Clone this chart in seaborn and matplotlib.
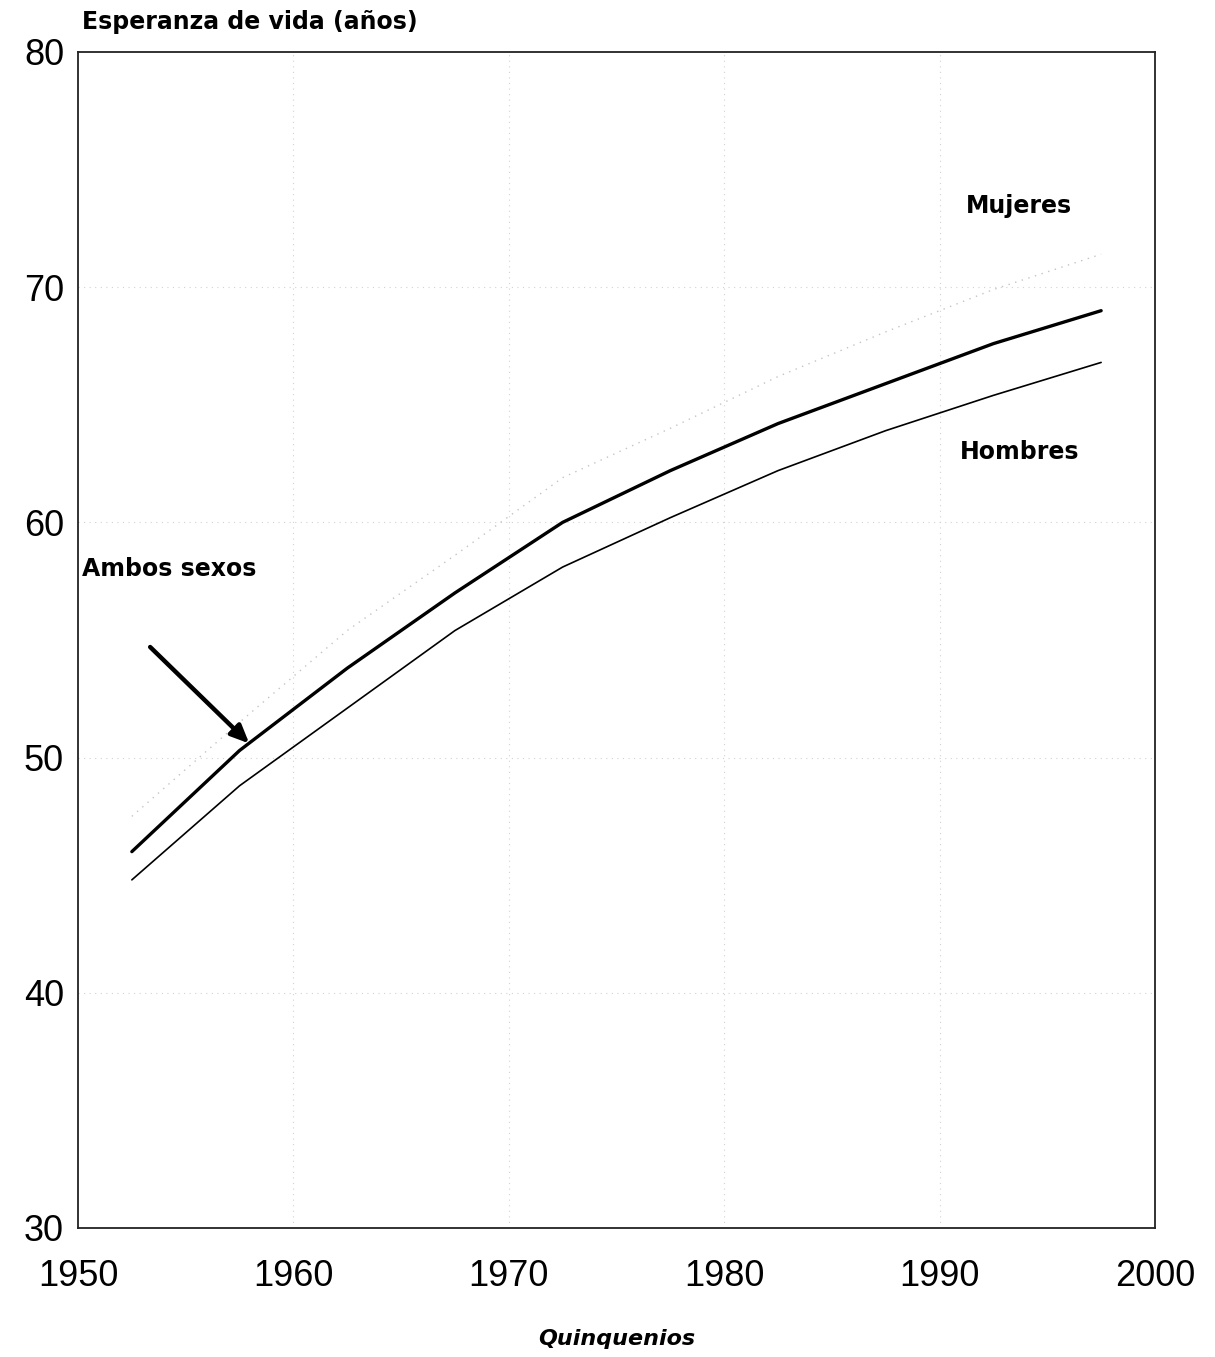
import pandas as pd
import numpy as np
import matplotlib.pyplot as plt
import seaborn as sns

# Quinquenios (midpoints) and life expectancy values
years = [1952.5, 1957.5, 1962.5, 1967.5, 1972.5, 1977.5, 1982.5, 1987.5, 1992.5, 1997.5]
ambos = [46.0, 50.3, 53.8, 57.0, 60.0, 62.2, 64.2, 65.9, 67.6, 69.0]
hombres = [44.8, 48.8, 52.1, 55.4, 58.1, 60.2, 62.2, 63.9, 65.4, 66.8]
mujeres = [47.5, 51.5, 55.4, 58.6, 61.9, 64.0, 66.2, 68.1, 69.9, 71.4]

x_ticks = [1950, 1960, 1970, 1980, 1990, 2000]
y_ticks = [30, 40, 50, 60, 70, 80]

df = pd.DataFrame({'year': years, 'Ambos sexos': ambos,
                   'Hombres': hombres, 'Mujeres': mujeres})

sns.set_theme(style="white")
plt.rcParams['font.family'] = ['Liberation Sans', 'DejaVu Sans']
plt.rcParams['text.color'] = 'black'

fig = plt.figure(figsize=(12.15, 13.57), dpi=100)
ax = fig.add_axes([0.0642, 0.0951, 0.8864, 0.8666])

# faint dotted grid like the scanned original
for xv in x_ticks[1:-1]:
    ax.axvline(xv, color='#d2d2d2', linestyle=(0, (1, 4)), linewidth=0.8, zorder=0)
for yv in y_ticks[1:-1]:
    ax.axhline(yv, color='#d2d2d2', linestyle=(0, (1, 4)), linewidth=0.8, zorder=0)

sns.lineplot(data=df, x='year', y='Mujeres', ax=ax, color='#c4c4c4',
             linestyle=(0, (1, 4)), linewidth=1.0)
sns.lineplot(data=df, x='year', y='Hombres', ax=ax, color='black', linewidth=1.2)
sns.lineplot(data=df, x='year', y='Ambos sexos', ax=ax, color='black', linewidth=2.4)

ax.set_xlim(1950, 2000)
ax.set_ylim(30, 80)
ax.set_xticks(x_ticks)
ax.set_yticks(y_ticks)
ax.set_xlabel('')
ax.set_ylabel('')
ax.tick_params(axis='both', direction='in', length=10, width=1, color='black',
               labelsize=26, labelcolor='black')
ax.tick_params(axis='x', pad=22)
ax.tick_params(axis='y', pad=10)
for s in ax.spines.values():
    s.set_color('#222222')
    s.set_linewidth(1.3)

# labels
lab = dict(fontsize=17, fontweight='bold', family=['DejaVu Sans'], color='black')
ax.text(1950.2, 58.0, 'Ambos sexos', ha='left', va='center', **lab)
ax.text(1993.7, 73.45, 'Mujeres', ha='center', va='center', **lab)
ax.text(1993.7, 63.0, 'Hombres', ha='center', va='center', **lab)

ax.annotate('', xy=(1957.95, 50.6), xytext=(1953.35, 54.7),
            arrowprops=dict(arrowstyle='-|>,head_length=0.9,head_width=0.4',
                            color='black', lw=3.2, shrinkA=0, shrinkB=0))

fig.text(0.0675, 0.9838, 'Esperanza de vida (años)', fontsize=17,
         fontweight='bold', family=['DejaVu Sans'], color='black',
         ha='left', va='center')
fig.text(0.508, 0.0133, 'Quinquenios', fontsize=16, fontweight='bold',
         fontstyle='italic', family=['DejaVu Sans'], color='black',
         ha='center', va='center')

fig.savefig('out.png', dpi=100, facecolor='white')
